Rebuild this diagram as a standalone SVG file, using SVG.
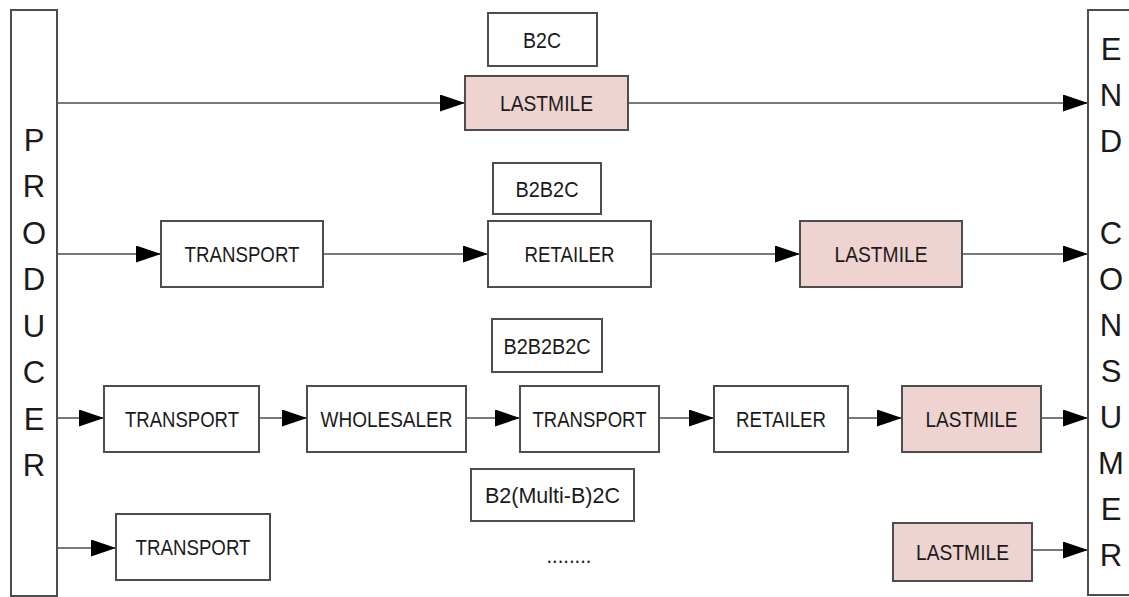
<svg xmlns="http://www.w3.org/2000/svg" width="1129" height="597" viewBox="0 0 1129 597">
<style>
.bx{fill:#fff;stroke:#4d4d4d;stroke-width:2}
.pk{fill:#efd3d1;stroke:#4d4d4d;stroke-width:2}
.t{font-family:"Liberation Sans",Arial,sans-serif;font-size:22px;fill:#1a1a1a;text-anchor:middle}
.v{font-family:"Liberation Sans",Arial,sans-serif;font-size:31px;fill:#1a1a1a;text-anchor:middle}
.c{stroke:#4d4d4d;stroke-width:1.6;fill:none;marker-end:url(#ah)}
</style>
<defs>
<marker id="ah" markerUnits="userSpaceOnUse" markerWidth="26" markerHeight="18" refX="25" refY="8.5" orient="auto">
<path d="M0,0 L25,8.5 L0,17 Z" fill="#000"/>
</marker>
</defs>
<rect width="1129" height="597" fill="#fff"/>

<g id="connectors">
<path class="c" d="M57,103 H465"/>
<path class="c" d="M628,103 H1088"/>
<path class="c" d="M57,254 H161"/>
<path class="c" d="M323,254 H488"/>
<path class="c" d="M651,254 H800"/>
<path class="c" d="M962,254 H1088"/>
<path class="c" d="M57,418 H104"/>
<path class="c" d="M259,418 H307"/>
<path class="c" d="M466,418 H520"/>
<path class="c" d="M659,418 H714"/>
<path class="c" d="M848,418 H902"/>
<path class="c" d="M1041,418 H1088"/>
<path class="c" d="M57,548 H116"/>
<path class="c" d="M1032,550 H1088"/>
</g>

<g id="producer">
<rect class="bx" x="11" y="10" width="46" height="586"/>
<text class="v" x="34" y="151">P</text>
<text class="v" x="34" y="197">R</text>
<text class="v" x="34" y="244">O</text>
<text class="v" x="34" y="290">D</text>
<text class="v" x="34" y="337">U</text>
<text class="v" x="34" y="383">C</text>
<text class="v" x="34" y="430">E</text>
<text class="v" x="34" y="476">R</text>
</g>

<g id="end-consumer">
<rect class="bx" x="1088" y="10" width="46" height="585"/>
<text class="v" x="1111" y="60">E</text>
<text class="v" x="1111" y="106">N</text>
<text class="v" x="1111" y="152">D</text>
<text class="v" x="1111" y="244">C</text>
<text class="v" x="1111" y="290">O</text>
<text class="v" x="1111" y="336">N</text>
<text class="v" x="1111" y="382">S</text>
<text class="v" x="1111" y="428">U</text>
<text class="v" x="1111" y="474">M</text>
<text class="v" x="1111" y="520">E</text>
<text class="v" x="1111" y="566">R</text>
</g>

<g id="label-b2c">
<rect class="bx" x="488" y="13" width="109" height="53"/>
<text class="t" x="542" y="47.5" textLength="38" lengthAdjust="spacingAndGlyphs">B2C</text>
</g>
<g id="r1-lastmile">
<rect class="pk" x="465" y="76" width="163" height="54"/>
<text class="t" x="546.5" y="111" textLength="93" lengthAdjust="spacingAndGlyphs">LASTMILE</text>
</g>

<g id="label-b2b2c">
<rect class="bx" x="493" y="163" width="108" height="51"/>
<text class="t" x="547" y="196.5" textLength="63" lengthAdjust="spacingAndGlyphs">B2B2C</text>
</g>
<g id="r2-transport">
<rect class="bx" x="161" y="221" width="162" height="66"/>
<text class="t" x="242" y="262" textLength="115" lengthAdjust="spacingAndGlyphs">TRANSPORT</text>
</g>
<g id="r2-retailer">
<rect class="bx" x="488" y="221" width="163" height="66"/>
<text class="t" x="569.5" y="262" textLength="90" lengthAdjust="spacingAndGlyphs">RETAILER</text>
</g>
<g id="r2-lastmile">
<rect class="pk" x="800" y="221" width="162" height="66"/>
<text class="t" x="881" y="262" textLength="93" lengthAdjust="spacingAndGlyphs">LASTMILE</text>
</g>

<g id="label-b2b2b2c">
<rect class="bx" x="492" y="319" width="110" height="53"/>
<text class="t" x="547" y="353.5" textLength="87" lengthAdjust="spacingAndGlyphs">B2B2B2C</text>
</g>
<g id="r3-transport1">
<rect class="bx" x="104" y="386" width="155" height="66"/>
<text class="t" x="182" y="426.5" textLength="114" lengthAdjust="spacingAndGlyphs">TRANSPORT</text>
</g>
<g id="r3-wholesaler">
<rect class="bx" x="307" y="386" width="159" height="66"/>
<text class="t" x="386.5" y="426.5" textLength="132" lengthAdjust="spacingAndGlyphs">WHOLESALER</text>
</g>
<g id="r3-transport2">
<rect class="bx" x="520" y="386" width="139" height="66"/>
<text class="t" x="589.5" y="426.5" textLength="114" lengthAdjust="spacingAndGlyphs">TRANSPORT</text>
</g>
<g id="r3-retailer">
<rect class="bx" x="714" y="386" width="134" height="66"/>
<text class="t" x="781" y="426.5" textLength="90" lengthAdjust="spacingAndGlyphs">RETAILER</text>
</g>
<g id="r3-lastmile">
<rect class="pk" x="902" y="386" width="139" height="66"/>
<text class="t" x="971.5" y="426.5" textLength="92" lengthAdjust="spacingAndGlyphs">LASTMILE</text>
</g>

<g id="label-b2multib2c">
<rect class="bx" x="471" y="469" width="163" height="52"/>
<text class="t" x="552.5" y="503" textLength="135" lengthAdjust="spacingAndGlyphs">B2(Multi-B)2C</text>
</g>
<g id="r4-transport">
<rect class="bx" x="116" y="514" width="154" height="66"/>
<text class="t" x="193" y="555" textLength="115" lengthAdjust="spacingAndGlyphs">TRANSPORT</text>
</g>
<g id="r4-dots">
<text class="t" x="569" y="563" textLength="45" lengthAdjust="spacingAndGlyphs">........</text>
</g>
<g id="r4-lastmile">
<rect class="pk" x="893" y="523" width="139" height="58"/>
<text class="t" x="962.5" y="559.5" textLength="93" lengthAdjust="spacingAndGlyphs">LASTMILE</text>
</g>
</svg>
